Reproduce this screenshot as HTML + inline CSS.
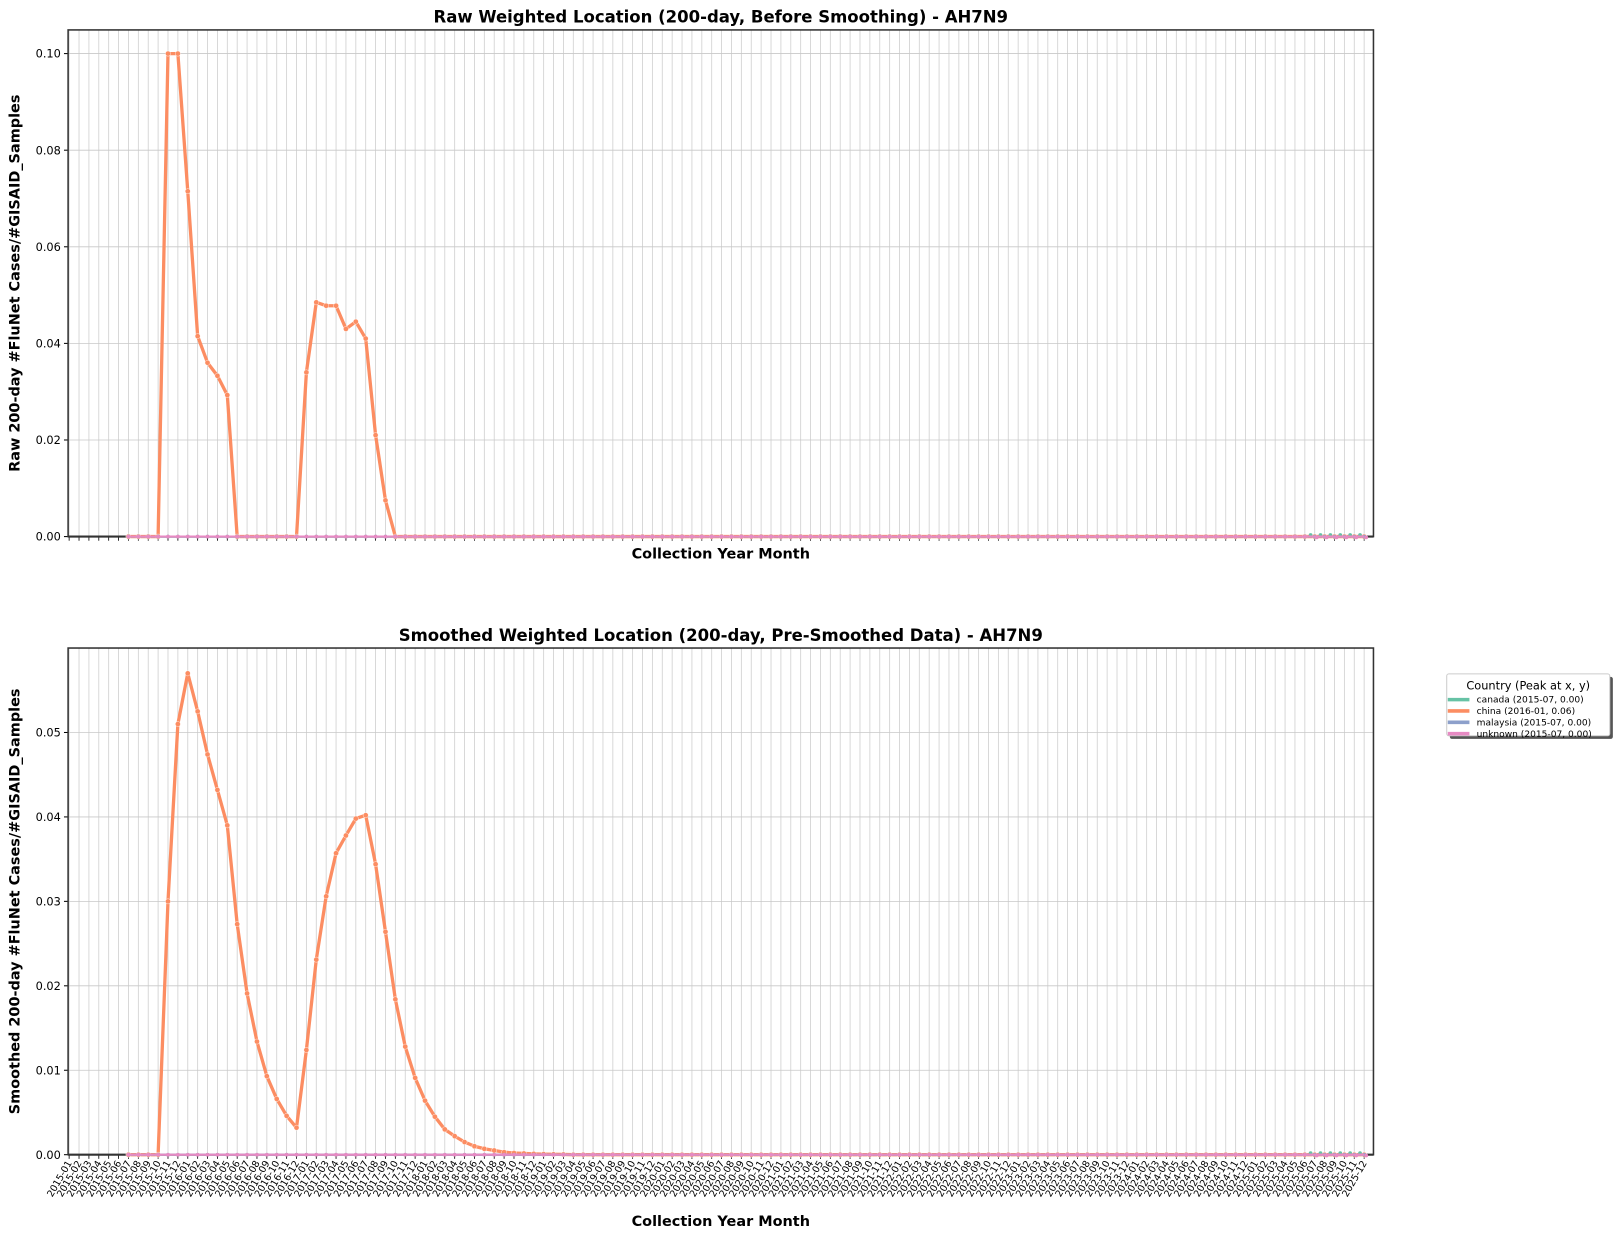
<!DOCTYPE html>
<html><head><meta charset="utf-8"><style>
body{margin:0;background:#fff;font-family:"Liberation Sans",sans-serif}
svg text{font-family:"DejaVu Sans","Liberation Sans",sans-serif}
</style></head><body>
<svg width="1618" height="1238" xmlns="http://www.w3.org/2000/svg"><g id="fig" transform="scale(1.0319)"></g></svg>
<script>
const rawChina = {9:0,10:0.100,11:0.100,12:0.0715,13:0.0415,14:0.036,15:0.0333,16:0.0293,17:0,23:0,24:0.034,25:0.0485,26:0.0478,27:0.0478,28:0.043,29:0.0445,30:0.041,31:0.021,32:0.0075,33:0};
const smoothChina = [0,0.030,0.051,0.057,0.0525,0.0474,0.0432,0.039,0.0273,0.0191,0.0134,0.0093,0.0066,0.0046,0.0032,0.0124,0.0231,0.0306,0.0357,0.0378,0.0398,0.0402,0.0344,0.0264,0.0184,0.0128,0.0091,0.0064,0.0045,0.0030,0.0022,0.0015,0.0010,0.0007,0.0005,0.0003,0.0002,0.00015,0.0001,0.00007,0.00005,0.00003];
const smoothStart = 9;
const countries = ["canada","china","malaysia","unknown"];
const colors = ["#66c2a5","#fc8d62","#8da0cb","#e78ac3"];
const peaks = ["(2015-07, 0.00)","(2016-01, 0.06)","(2015-07, 0.00)","(2015-07, 0.00)"];
const topTicks = [0,0.02,0.04,0.06,0.08,0.10];
const botTicks = [0,0.01,0.02,0.03,0.04,0.05];
const months=[];
for(let y=2015;y<=2025;y++)for(let m=1;m<=12;m++)months.push(y+"-"+String(m).padStart(2,"0"));
const seriesStart=6;

const NS="http://www.w3.org/2000/svg";
const svg=document.getElementById("fig");
function el(t,a,p){const e=document.createElementNS(NS,t);for(const k in a)e.setAttribute(k,a[k]);(p||svg).appendChild(e);return e;}
const L=66,R=1331;
function xs(i){return 67+i*9.58;}

function panel(top,bot,ymax,ticks,fmt,title,ylabel,showLabels,seriesChina,name){
  const g=el("g",{});
  
  
  const ys=v=>bot-(v/ymax)*(bot-top);
  months.forEach((m,i)=>{el("line",{x1:xs(i),x2:xs(i),y1:top,y2:bot,stroke:"#d0d0d0","stroke-width":0.8},g);});
  ticks.forEach(t=>{el("line",{x1:L,x2:R,y1:ys(t),y2:ys(t),stroke:"#c8c8c8","stroke-width":0.8},g);
    el("line",{x1:L-4,x2:L,y1:ys(t),y2:ys(t),stroke:"#000"},g);
    const tx=el("text",{x:L-7,y:ys(t)+4,"text-anchor":"end","font-size":11},g);tx.textContent=fmt(t);});
  months.forEach((m,i)=>{el("line",{x1:xs(i),x2:xs(i),y1:bot,y2:bot+4,stroke:"#000","stroke-width":0.8},g);
    if(showLabels){const tx=el("text",{x:xs(i)+3,y:bot+8,"text-anchor":"end","font-size":9.3,transform:`rotate(-60 ${xs(i)+3} ${bot+8})`},g);tx.textContent=m;}});
  el("rect",{x:L,y:top,width:R-L,height:bot-top,fill:"none",stroke:"#333","stroke-width":1.5},g);
  el("line",{x1:L,x2:R,y1:bot,y2:bot,stroke:"#333","stroke-width":2},g);
  // china
  const cp=[];for(let i=seriesStart;i<132;i++){cp.push([i,seriesChina(i)]);}
  const pl=el("polyline",{points:cp.map(p=>xs(p[0])+","+ys(p[1])).join(" "),fill:"none",stroke:colors[1],"stroke-width":3.2,"stroke-linejoin":"round"},g);
  
  
  cp.forEach(p=>{el("circle",{cx:xs(p[0]),cy:ys(p[1]),r:2.5,fill:colors[1],stroke:"#fff","stroke-width":0.4},g);});
  // zero series on top
  [0,2,3].forEach(c=>{
    let pts=[];for(let i=seriesStart;i<132;i++)pts.push(xs(i)+","+ys(0));
    const z=el("polyline",{points:pts.join(" "),fill:"none",stroke:colors[c],"stroke-width":2},g);
    
    
    for(let i=seriesStart;i<132;i++)el("circle",{cx:xs(i)+(i>=126?(c-2)*2:0),cy:ys(0)+(i>=126?(c-2)*0.8:0),r:1.8,fill:colors[c]},g);
  });
  const tt=el("text",{x:(L+R)/2,y:top-7,"text-anchor":"middle","font-size":16,"font-weight":"bold"},g);tt.textContent=title;
  
  
  const xl=el("text",{x:(L+R)/2,y:showLabels?bot+69:bot+21,"text-anchor":"middle","font-size":14,"font-weight":"bold"},g);xl.textContent="Collection Year Month";
  
  
  const cy=(top+bot)/2;
  const yl=el("text",{x:19,y:cy,"text-anchor":"middle","font-size":14,"font-weight":"bold",transform:`rotate(-90 19 ${cy})`},g);yl.textContent=ylabel;
  
  
}
panel(29,520,0.1049,topTicks,t=>t.toFixed(2),"Raw Weighted Location (200-day, Before Smoothing) - AH7N9","Raw 200-day #FluNet Cases/#GISAID_Samples",false,i=>rawChina[i]!==undefined?rawChina[i]:0,"raw-panel");
panel(628,1119,0.060,botTicks,t=>t.toFixed(2),"Smoothed Weighted Location (200-day, Pre-Smoothed Data) - AH7N9","Smoothed 200-day #FluNet Cases/#GISAID_Samples",true,i=>{const k=i-smoothStart;return (k>=0&&k<smoothChina.length)?smoothChina[k]:0;},"smoothed-panel");

// legend
const lg=el("g",{});


el("rect",{x:1405,y:656,width:158,height:60,fill:"#555",rx:2},lg);
el("rect",{x:1402,y:653,width:158,height:60,fill:"#fff",stroke:"#ccc",rx:2},lg);
const lt=el("text",{x:1481,y:668,"text-anchor":"middle","font-size":11},lg);lt.textContent="Country (Peak at x, y)";
countries.forEach((c,k)=>{const y=681+k*11;
  const e=el("line",{x1:1403,x2:1424,y1:y-3,y2:y-3,stroke:colors[k],"stroke-width":3.5},lg);
  
  
  const t=el("text",{x:1431,y:y,"font-size":8.8},lg);t.textContent=c+"  "+peaks[k];
  
  
});
</script>
</body></html>
